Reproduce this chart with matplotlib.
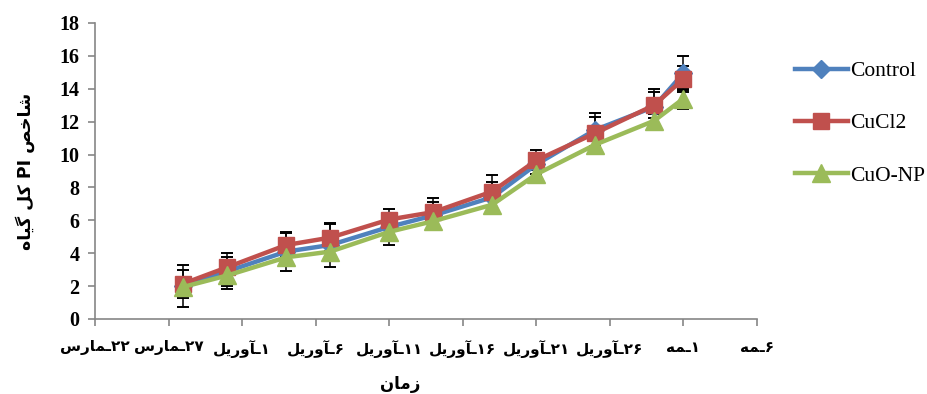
import matplotlib

matplotlib.use("Agg")
import matplotlib.pyplot as plt

# days after 22 March (sampling dates)
days = [6, 9, 13, 16, 20, 23, 27, 30, 34, 38, 40]

control = [2.0, 2.9, 4.1, 4.5, 5.6, 6.3, 7.4, 9.4, 11.5, 12.9, 14.95]
control_err = [1.3, 0.9, 1.2, 1.35, 1.1, 0.8, 0.95, 0.6, 1.0, 1.1, 1.05]
cucl2 = [2.15, 3.15, 4.5, 4.95, 6.05, 6.5, 7.75, 9.65, 11.3, 13.0, 14.6]
cucl2_err = [0.85, 0.85, 0.7, 0.8, 0.3, 0.85, 1.0, 0.6, 1.0, 0.8, 0.8]
cuo_np = [1.95, 2.65, 3.75, 4.1, 5.3, 5.95, 6.95, 8.8, 10.6, 12.05, 13.4]
cuo_np_err = [0.4, 0.85, 0.4, 0.4, 0.3, 0.4, 0.5, 0.4, 0.4, 0.4, 0.6]

tick_days = [0, 5, 10, 15, 20, 25, 30, 35, 40, 45]
tick_labels = ["۲۲ـمارس", "۲۷ـمارس", "۱ـآوریل", "۶ـآوریل", "۱۱ـآوریل",
               "۱۶ـآوریل", "۲۱ـآوریل", "۲۶ـآوریل", "۱ـمه", "۶ـمه"]
y_label = "شاخص PI کل گیاه"
x_label = "زمان"

# Arabic presentation forms: isolated, final, initial, medial
FORMS = {
    "ا": ("\uFE8D", "\uFE8E"),
    "آ": ("\uFE81", "\uFE82"),
    "ر": ("\uFEAD", "\uFEAE"),
    "ز": ("\uFEAF", "\uFEB0"),
    "و": ("\uFEED", "\uFEEE"),
    "م": ("\uFEE1", "\uFEE2", "\uFEE3", "\uFEE4"),
    "س": ("\uFEB1", "\uFEB2", "\uFEB3", "\uFEB4"),
    "ش": ("\uFEB5", "\uFEB6", "\uFEB7", "\uFEB8"),
    "ص": ("\uFEB9", "\uFEBA", "\uFEBB", "\uFEBC"),
    "خ": ("\uFEA5", "\uFEA6", "\uFEA7", "\uFEA8"),
    "ل": ("\uFEDD", "\uFEDE", "\uFEDF", "\uFEE0"),
    "ه": ("\uFEE9", "\uFEEA", "\uFEEB", "\uFEEC"),
    "ن": ("\uFEE5", "\uFEE6", "\uFEE7", "\uFEE8"),
    "ی": ("\uFBFC", "\uFBFD", "\uFBFE", "\uFBFF"),
    "ک": ("\uFB8E", "\uFB8F", "\uFB90", "\uFB91"),
    "گ": ("\uFB92", "\uFB93", "\uFB94", "\uFB95"),
    "ـ": ("\u0640", "\u0640", "\u0640", "\u0640"),
}


def _is_ltr(ch):
    return ch.isascii() and ch.isalnum() or "\u06F0" <= ch <= "\u06F9"


def rtl(text):
    """Shape Persian text and put it in visual (left-to-right) order."""
    out = []
    for i, ch in enumerate(text):
        if ch not in FORMS:
            out.append(ch)
            continue
        forms = FORMS[ch]
        prev = text[i - 1] if i > 0 else ""
        nxt = text[i + 1] if i + 1 < len(text) else ""
        join_prev = prev in FORMS and len(FORMS[prev]) == 4
        join_next = nxt in FORMS and len(forms) == 4
        if join_prev and join_next:
            out.append(forms[3])
        elif join_prev:
            out.append(forms[1])
        elif join_next:
            out.append(forms[2])
        else:
            out.append(forms[0])
    rev = out[::-1]
    # keep latin / digit runs left-to-right
    res, run = [], []
    for ch in rev:
        if _is_ltr(ch):
            run.append(ch)
        else:
            res.extend(run[::-1])
            run = []
            res.append(ch)
    res.extend(run[::-1])
    return "".join(res)


W, H = 928, 394
fig = plt.figure(figsize=(W / 100, H / 100), dpi=100)
ax = fig.add_axes([95 / W, 1 - 319 / H, (757 - 95) / W, (319 - 23) / H])

series = [
    ("Control", control, control_err, "#4F81BD", "D", 9),
    ("CuCl2", cucl2, cucl2_err, "#C0504D", "s", 12),
    ("CuO-NP", cuo_np, cuo_np_err, "#9BBB59", "^", 13),
]

for name, vals, err, color, marker, ms in series:
    ax.errorbar(days, vals, yerr=err, fmt="none", ecolor="black",
                elinewidth=1.1, capsize=4.5, capthick=1.4, zorder=2)

handles = []
for name, vals, err, color, marker, ms in series:
    line, = ax.plot(days, vals, color=color, lw=3.2, marker=marker, ms=ms,
                    label=name, zorder=3)
    handles.append(line)

ax.set_xlim(0, 45)
ax.set_ylim(0, 18)
ax.set_yticks(range(0, 19, 2))
ax.set_xticks(tick_days)
ax.set_xticklabels([rtl(t) for t in tick_labels], fontfamily="DejaVu Sans",
                   fontweight="bold", fontsize=11)
ax.set_yticklabels([str(v) for v in range(0, 19, 2)], fontfamily="Liberation Serif",
                   fontweight="bold", fontsize=14.5)

for side in ["top", "right"]:
    ax.spines[side].set_visible(False)
for side in ["left", "bottom"]:
    ax.spines[side].set_color("#868686")
    ax.spines[side].set_linewidth(1.2)
ax.tick_params(axis="both", direction="out", color="#868686", width=1.2)
ax.tick_params(axis="x", length=5, pad=10)
ax.tick_params(axis="y", length=5, pad=6)

fig.text(25 / W, 1 - 171 / H, rtl(y_label), rotation=90, ha="center", va="center",
         fontfamily="DejaVu Sans", fontweight="bold", fontsize=12.5)
fig.text(400 / W, 1 - 384 / H, rtl(x_label), ha="center", va="center",
         fontfamily="DejaVu Sans", fontweight="bold", fontsize=12)

fig.legend(handles=handles, loc="upper left", bbox_to_anchor=(795 / W, 1 - 61 / H),
           frameon=False, prop={"family": "Liberation Serif", "size": 15.5},
           handlelength=2.45, handletextpad=0.1, labelspacing=1.5,
           borderpad=0, borderaxespad=0)

fig.savefig("out.png", dpi=100)
